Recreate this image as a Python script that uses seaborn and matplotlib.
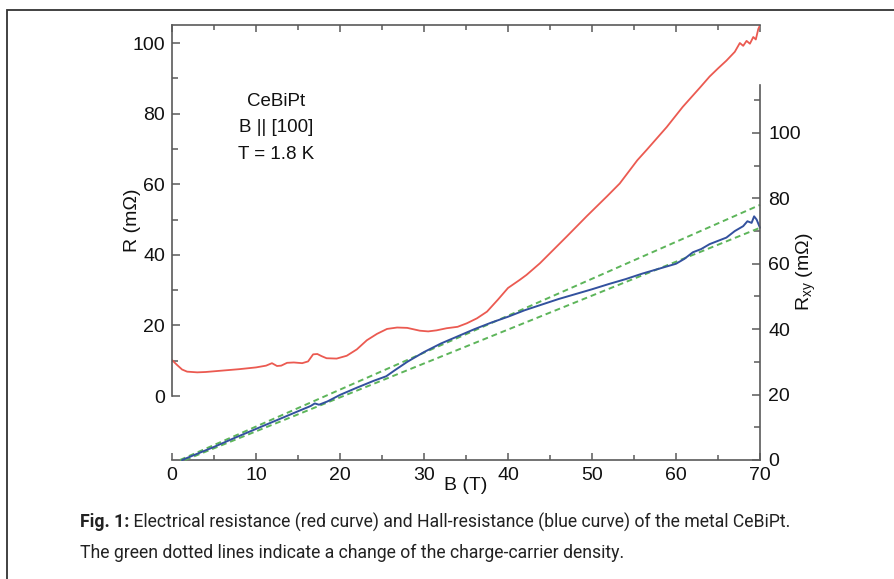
import matplotlib
matplotlib.use("Agg")
import matplotlib.pyplot as plt
import seaborn as sns
import numpy as np
import pandas as pd
from matplotlib import font_manager
from matplotlib.ticker import FixedLocator
from matplotlib.patches import Rectangle

# ---------------- data ----------------
B_red = [0, 0.6, 1.2, 1.8, 3, 4, 6, 8, 10, 11.2, 11.9, 12.5, 13, 13.7, 14.5, 15.5,
         16.2, 16.8, 17.3, 17.8, 18.4, 19.6, 20.8, 22, 23.2, 24.4, 25.6, 26.8, 28,
         29.5, 30.5, 31.5, 32.7, 34, 35.1, 36.3, 37.5, 38.8, 40, 41.4, 42.2, 43.8,
         45.4, 47, 49.4, 51.8, 53.3, 55.4, 56.5, 58.9, 60.8, 62.9, 64, 65, 66, 67,
         67.6, 68, 68.4, 68.8, 69.2, 69.5, 69.8, 70]
R_red = [10.2, 8.8, 7.5, 6.9, 6.7, 6.8, 7.2, 7.6, 8.1, 8.6, 9.3, 8.5, 8.6, 9.4,
         9.5, 9.3, 9.8, 11.8, 11.9, 11.3, 10.7, 10.6, 11.4, 13.2, 15.8, 17.6, 19.0,
         19.4, 19.3, 18.5, 18.3, 18.6, 19.2, 19.6, 20.6, 22.0, 23.9, 27.3, 30.6,
         32.9, 34.3, 37.6, 41.4, 45.2, 51.0, 56.6, 60.2, 66.8, 69.7, 76.2, 81.9,
         87.5, 90.5, 92.8, 95.0, 97.5, 100.0, 99.2, 100.6, 99.8, 101.7, 101.0,
         104.0, 105.0]

B_blue = [1.2, 3, 5, 7.5, 10, 12.5, 15, 16.5, 17, 17.5, 18.5, 20, 22, 24, 25.5,
          26.5, 28, 30, 32, 34, 36, 38, 40, 42, 44, 46, 48, 50, 52, 54, 56, 58,
          60, 61, 62, 63, 64, 65, 66, 67, 68, 68.5, 69, 69.3, 69.6, 70]
Rxy_blue = [0, 1.9, 4.0, 6.8, 9.5, 12.2, 14.9, 16.5, 17.3, 16.9, 17.9, 19.9, 22.1,
            24.2, 25.6, 27.4, 30.0, 33, 35.6, 37.8, 40, 42, 43.8, 45.8, 47.5,
            49.2, 50.7, 52.2, 53.8, 55.3, 57, 58.5, 60, 61.5, 63.5, 64.5, 66, 67,
            68, 70, 71.5, 73, 72.5, 74.5, 73.5, 71]

B_green_upper = [0.95, 70]
Rxy_green_upper = [0, 78]
B_green_lower = [1.55, 70]
Rxy_green_lower = [0, 71]

x_ticks = [0, 10, 20, 30, 40, 50, 60, 70]
left_ticks = [0, 20, 40, 60, 80, 100]
right_ticks = [0, 20, 40, 60, 80, 100]

info_text = "CeBiPt\nB || [100]\nT = 1.8 K"
cap_bold = "Fig. 1:"
cap_line1 = " Electrical resistance (red curve) and Hall-resistance (blue curve) of the metal CeBiPt."
cap_line2 = "The green dotted lines indicate a change of the charge-carrier density."

# ---------------- style ----------------
RED = "#eb5a51"
BLUE = "#33519e"
GREEN = "#5db55a"
SPINE = "#5a5a5a"

sns.set_style("ticks")
plt.rcParams["font.family"] = ["Liberation Sans", "DejaVu Sans"]

W, H = 894, 579
fig = plt.figure(figsize=(W / 100, H / 100), dpi=100)
fig.patch.set_facecolor("white")

# outer frame (only top and left visible in the reference)
fig.patches.append(Rectangle((7 / W, -0.05), 1.2, 1 - 10 / H + 0.05,
                             transform=fig.transFigure, fill=False,
                             edgecolor="#333333", lw=1.3))

ax = fig.add_axes([172 / W, 1 - 460 / H, 588 / W, 435 / H])
ax2 = ax.twinx()

df_red = pd.DataFrame({"B": B_red, "R": R_red})
sns.lineplot(data=df_red, x="B", y="R", ax=ax, color=RED, lw=1.3,
             estimator=None, sort=False)

df_gu = pd.DataFrame({"B": B_green_upper, "Rxy": Rxy_green_upper})
df_gl = pd.DataFrame({"B": B_green_lower, "Rxy": Rxy_green_lower})
sns.lineplot(data=df_gu, x="B", y="Rxy", ax=ax2, color=GREEN, lw=1.4,
             estimator=None, sort=False, dashes=False, linestyle=(0, (3, 2)))
sns.lineplot(data=df_gl, x="B", y="Rxy", ax=ax2, color=GREEN, lw=1.4,
             estimator=None, sort=False, dashes=False, linestyle=(0, (3, 2)))
df_blue = pd.DataFrame({"B": B_blue, "Rxy": Rxy_blue})
sns.lineplot(data=df_blue, x="B", y="Rxy", ax=ax2, color=BLUE, lw=1.4,
             estimator=None, sort=False)
for ln in ax2.lines:
    ln.set_clip_on(False)

# axis limits
ax.set_xlim(0, 70)
ax.set_ylim(-18.13, 105.1)
ax2.set_ylim(0, 133.0)

# spines
for a in (ax, ax2):
    for s in a.spines.values():
        s.set_color(SPINE)
        s.set_linewidth(1.2)
ax.spines["right"].set_visible(False)
ax.spines["left"].set_bounds(0, 105.1)
ax2.spines["left"].set_visible(False)
ax2.spines["top"].set_visible(False)
ax2.spines["bottom"].set_visible(False)
ax2.spines["right"].set_bounds(0, 114.6)

# ticks
ax.xaxis.set_major_locator(FixedLocator(x_ticks))
ax.xaxis.set_minor_locator(FixedLocator([5, 15, 25, 35, 45, 55, 65]))
ax.yaxis.set_major_locator(FixedLocator(left_ticks))
ax.yaxis.set_minor_locator(FixedLocator([10, 30, 50, 70, 90]))
ax.tick_params(axis="x", which="both", direction="in", top=True, bottom=True,
               color=SPINE, width=1.1, labelsize=14, pad=5, labelcolor="#111111")
ax.tick_params(axis="x", which="major", length=5)
ax.tick_params(axis="x", which="minor", length=3.5)
ax.tick_params(axis="y", which="both", direction="in", left=True, right=False,
               color=SPINE, width=1.1, labelsize=14, pad=5, labelcolor="#111111")
ax.tick_params(axis="y", which="major", length=6)
ax.tick_params(axis="y", which="minor", length=4)

ax2.yaxis.set_major_locator(FixedLocator(right_ticks))
ax2.yaxis.set_minor_locator(FixedLocator([10, 30, 50, 70, 90, 110]))
ax2.tick_params(axis="y", which="both", direction="in", right=True, left=False,
                color=SPINE, width=1.1, labelsize=14, pad=6, labelcolor="#111111")
ax2.tick_params(axis="y", which="major", length=6)
ax2.tick_params(axis="y", which="minor", length=4)

# labels
ax.set_xlabel("B (T)", fontsize=14, color="#111111")
ax.xaxis.set_label_coords(0.5, -0.04)
ax.set_ylabel("R (m\u03a9)", fontsize=14, color="#111111", va="center")
ax.yaxis.set_label_coords(-0.068, 0.552)
ax2.set_ylabel("R$_{\\mathregular{xy}}$ (m\u03a9)", fontsize=14, color="#111111",
               va="center", rotation=90)
ax2.yaxis.set_label_coords(1.078, 0.432)

ax.text((276 - 172) / 588, (460 - 128) / 435, info_text, transform=ax.transAxes,
        ha="center", va="center", fontsize=13.5, linespacing=1.72, color="#111111")

# caption
names = {f.name for f in font_manager.fontManager.ttflist}
cap_font = "Liberation Sans Narrow" if "Liberation Sans Narrow" in names else "Roboto"
size0 = 13
renderer = fig.canvas.get_renderer()
tb = fig.text(80 / W, 1 - 522 / H, cap_bold, fontsize=size0, weight="bold",
              family=[cap_font, "DejaVu Sans"], va="center", color="#222222")
tr = fig.text(0, 1 - 522 / H, cap_line1, fontsize=size0,
              family=[cap_font, "DejaVu Sans"], va="center", color="#222222")
wb = tb.get_window_extent(renderer).width
wr = tr.get_window_extent(renderer).width
scale = 715 / (wb + wr)
size = size0 * scale
tb.set_fontsize(size)
tr.set_fontsize(size)
wb = tb.get_window_extent(renderer).width
tr.set_x((80 + wb) / W)
fig.text(80 / W, 1 - 553 / H, cap_line2, fontsize=size,
         family=[cap_font, "DejaVu Sans"], va="center", color="#222222")

fig.savefig("out.png", dpi=100)
